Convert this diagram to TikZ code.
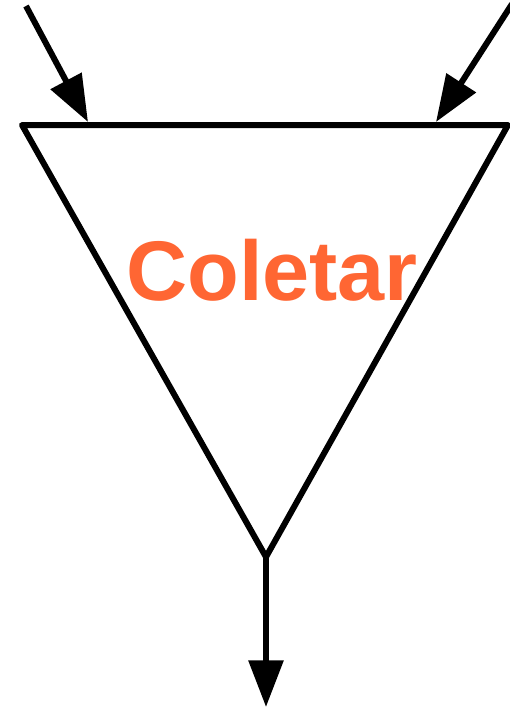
\documentclass[tikz,border=0pt]{standalone}
\usepackage{fontspec}
\setmainfont{Liberation Sans}
\usetikzlibrary{arrows.meta}
\definecolor{coletarorange}{HTML}{FF6633}
\tikzset{
  flowline/.style={line width=4.5pt, line join=round},
  flowarrow/.style={flowline, -{Triangle[length=35pt,width=25.5pt]}},
}
\begin{document}
\begin{tikzpicture}[x=0.75pt, y=-0.75pt]
    \useasboundingbox (0,0) rectangle (510,708);

    % corners of the collecting triangle
    \coordinate (topleft) at (22,125);
    \coordinate (topright) at (508,125);
    \coordinate (bottom) at (266,557);
    \draw[flowline] (topleft) -- (topright) -- (bottom) -- cycle;

    \node[coletarorange, font=\bfseries\fontsize{63.5}{63.5}\selectfont, anchor=base] (coletar) at (272,300) {Coletar};

    % incoming flows
    \coordinate (inleft) at (26,6);
    \coordinate (inleftend) at (88,122);
    \coordinate (inright) at (512,4);
    \coordinate (inrightend) at (436,122);
    \draw[flowarrow] (inleft) -- (inleftend);
    \draw[flowarrow] (inright) -- (inrightend);

    % outgoing flow
    \coordinate (out) at (266,707);
    \draw[flowarrow] (bottom) -- (out);
\end{tikzpicture}
\end{document}
